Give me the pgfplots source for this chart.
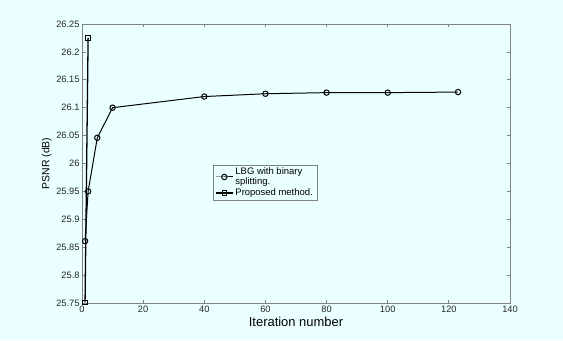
\documentclass[border=0pt]{standalone}
\usepackage{pgfplots}
\pgfplotsset{compat=1.18}
\usepackage{fontspec}
\setmainfont{Liberation Sans}
\definecolor{bgc}{RGB}{234,255,255}
\definecolor{axgray}{RGB}{128,128,128}
\begin{document}
\begin{tikzpicture}[x=1bp,y=1bp]
\fill[bgc] (0,0) rectangle (563,340);
\begin{axis}[
  at={(82bp,37bp)}, anchor=south west,
  scale only axis, width=428bp, height=279bp,
  xmin=0, xmax=140, ymin=25.75, ymax=26.25,
  xtick={0,20,...,140},
  ytick={25.75,25.8,25.85,25.9,25.95,26,26.05,26.1,26.15,26.2,26.25},
  yticklabels={25.75,25.8,25.85,25.9,25.95,26,26.05,26.1,26.15,26.2,26.25},
  tick align=inside, major tick length=3.5bp,
  axis line style={axgray, line width=0.8pt},
  tick style={axgray, line width=0.8pt},
  every tick label/.append style={font=\fontsize{9.3}{10}\selectfont, text=black!85},
  /pgf/number format/assume math mode=true,
  xticklabel style={yshift=0bp},
  yticklabel style={xshift=1bp},
  xlabel={Iteration number},
  xlabel style={font=\fontsize{13}{14}\selectfont, at={(axis description cs:0.5,0)}, anchor=north, yshift=-11bp},
  ylabel={PSNR (dB)},
  ylabel style={font=\fontsize{10.5}{11}\selectfont, at={(axis description cs:0,0.5)}, anchor=south, yshift=27bp},
  legend style={at={(0.306,0.495)}, anchor=north west, draw=axgray, fill=bgc,
    font=\fontsize{9.5}{9.5}\selectfont, inner xsep=2bp, inner ysep=1bp, row sep=-1bp,
    cells={align=left}},
  legend cell align=left,
]
\addplot[black, line width=1pt, mark=o, mark size=2.7bp, mark options={line width=1pt}]
  coordinates {(1,25.861) (2,25.950) (5,26.046) (10,26.100) (40,26.120) (60,26.125) (80,26.127) (100,26.127) (123,26.128)};
\addlegendentry{LBG with binary\\splitting.}
\addplot[black, line width=1.3pt, mark=square, mark size=2.3bp, mark options={line width=1pt}]
  coordinates {(1,25.751) (2,26.225)};
\addlegendentry{Proposed method.}
\end{axis}
\end{tikzpicture}
\end{document}
